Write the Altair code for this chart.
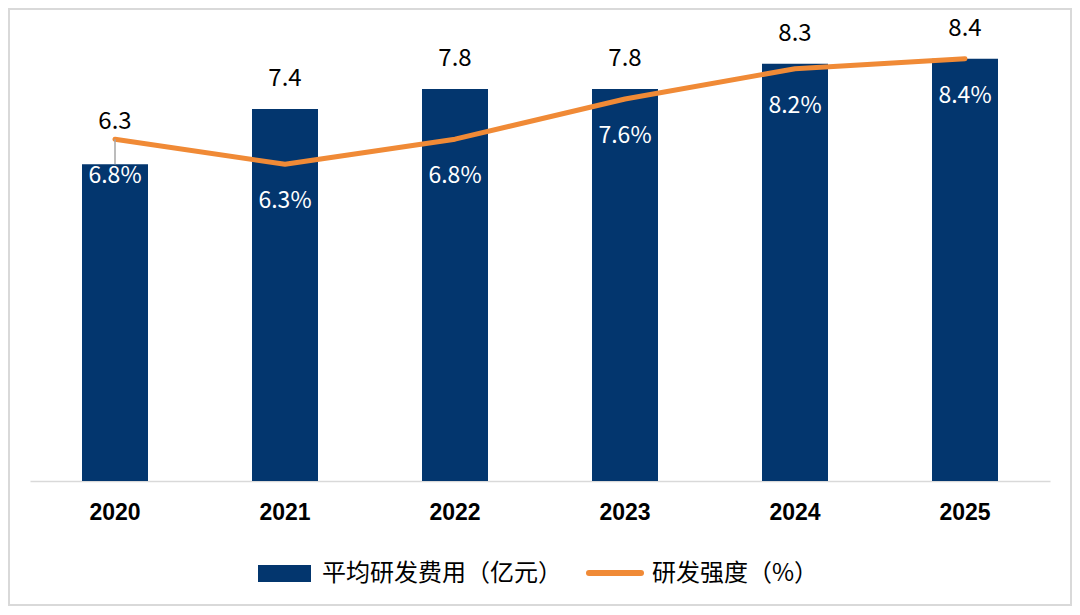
import altair as alt
import pandas as pd

years = ["2020", "2021", "2022", "2023", "2024", "2025"]
avg_rd_cost = [6.3, 7.4, 7.8, 7.8, 8.3, 8.4]
rd_intensity = [6.8, 6.3, 6.8, 7.6, 8.2, 8.4]
legend_names = ["平均研发费用（亿元）", "研发强度（%）"]

BAR_COLOR = "#03366e"
LINE_COLOR = "#f08a36"
CJK = "Noto Sans CJK SC"

df = pd.DataFrame({"year": years, "cost": avg_rd_cost, "rate": rd_intensity})
df["cost_label"] = df["cost"].map(lambda v: f"{v:.1f}")
df["rate_label"] = df["rate"].map(lambda v: f"{v:.1f}%")

x_enc = alt.X(
    "year:N",
    title=None,
    sort=years,
    scale=alt.Scale(paddingInner=0, paddingOuter=0),
    axis=alt.Axis(
        labelFont="Liberation Sans",
        labelFontSize=23,
        labelFontWeight="bold",
        labelColor="#000000",
        labelPadding=20,
        labelAngle=0,
        ticks=False,
        tickSize=0,
        domainColor="#d9d9d9",
        domainWidth=1.5,
        grid=False,
    ),
)
y_scale = alt.Scale(domain=[0, 9.25], nice=False, zero=True)

base = alt.Chart(df).encode(x=x_enc)

bars = base.mark_bar(size=66, color=BAR_COLOR).encode(
    y=alt.Y("cost:Q", scale=y_scale, axis=None)
)

line = base.mark_line(color=LINE_COLOR, strokeWidth=5, strokeCap="round", strokeJoin="round").encode(
    y=alt.Y("rate:Q", scale=y_scale)
)

# leader from the line point down to the bar where the line sits above the bar
leader = base.transform_filter("datum.rate > datum.cost").mark_rule(
    color="#a6a6a6", strokeWidth=1.5
).encode(y=alt.Y("rate:Q", scale=y_scale), y2="cost:Q")

cost_text = base.transform_filter("datum.rate <= datum.cost").mark_text(
    font=CJK, fontSize=24, color="#000000", baseline="middle", dy=-30
).encode(y=alt.Y("cost:Q", scale=y_scale), text="cost_label:N")

cost_text_up = base.transform_filter("datum.rate > datum.cost").mark_text(
    font=CJK, fontSize=24, color="#000000", baseline="middle", dy=-17
).encode(y=alt.Y("rate:Q", scale=y_scale), text="cost_label:N")

rate_text = base.mark_text(
    font=CJK, fontSize=23, color="#ffffff", baseline="middle", dy=37
).encode(y=alt.Y("rate:Q", scale=y_scale), text="rate_label:N")

# manual legend and frame
one = alt.Chart(pd.DataFrame({"k": [0]}))
frame = one.mark_rect(fill=None, stroke="#d9d9d9", strokeWidth=2).encode(
    x=alt.value(-21), x2=alt.value(1041), y=alt.value(-7), y2=alt.value(589)
)
leg_rect = one.mark_rect(color=BAR_COLOR).encode(
    x=alt.value(228), x2=alt.value(281), y=alt.value(549), y2=alt.value(566)
)
leg_text1 = one.mark_text(
    font=CJK, fontSize=24, align="left", baseline="middle", color="#000000", text=legend_names[0]
).encode(x=alt.value(292), y=alt.value(558))
leg_line = one.mark_rule(color=LINE_COLOR, strokeWidth=6, strokeCap="round").encode(
    x=alt.value(559), x2=alt.value(611), y=alt.value(557)
)
leg_text2 = one.mark_text(
    font=CJK, fontSize=24, align="left", baseline="middle", color="#000000", text=legend_names[1]
).encode(x=alt.value(622), y=alt.value(558))

chart = alt.layer(
    frame, bars, line, leader, cost_text, cost_text_up, rate_text,
    leg_rect, leg_text1, leg_line, leg_text2,
).properties(
    width=1020,
    height=465,
    autosize=alt.AutoSizeParams(type="none"),
    padding={"left": 22, "top": 8, "right": 22, "bottom": 125},
    background="#ffffff",
).configure_view(stroke=None)

chart.save("out.html", embed_options={"renderer": "svg", "actions": False})
